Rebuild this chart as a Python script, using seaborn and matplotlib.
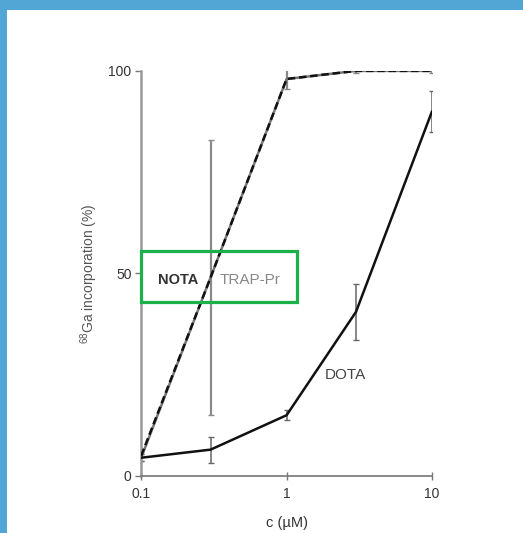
import pandas as pd
import numpy as np
import matplotlib
matplotlib.use("Agg")
import matplotlib.pyplot as plt
import seaborn as sns
from matplotlib.patches import Rectangle

# datos
conc = [0.1, 0.3, 1, 3, 10]
nota = [5, 49, 98, 100, 100]
trap = [4.5, 49, 98, 100, 100]
dota = [4.5, 6.5, 15, 40.5, 90]
trap_err = [0.8, 34, 2.5, 0.5, 0.5]
dota_err = [0.8, 3.2, 1.2, 7, 5]

df = pd.DataFrame({
    "c": conc * 3,
    "inc": trap + nota + dota,
    "quelante": ["TRAP-Pr"] * 5 + ["NOTA"] * 5 + ["DOTA"] * 5,
})

sns.set_style("white")
plt.rcParams["font.family"] = ["Liberation Sans", "DejaVu Sans"]
plt.rcParams["mathtext.fontset"] = "custom"
plt.rcParams["mathtext.rm"] = "Liberation Sans"

fig = plt.figure(figsize=(5.23, 5.33), dpi=100)
ax = fig.add_axes([0.27, 0.107, 0.556, 0.76])

ax.errorbar(conc, trap, yerr=trap_err, fmt="none", ecolor="#8a8a8a",
            elinewidth=1.6, capsize=2.5, zorder=1)
ax.errorbar(conc, dota, yerr=dota_err, fmt="none", ecolor="#666666",
            elinewidth=1.1, capsize=2.5, zorder=1)

sns.lineplot(data=df, x="c", y="inc", hue="quelante", style="quelante",
             palette={"TRAP-Pr": "#777777", "NOTA": "#111111", "DOTA": "#111111"},
             dashes={"TRAP-Pr": "", "NOTA": (3, 1.5), "DOTA": ""},
             linewidth=1.8, legend=False, ax=ax, zorder=3)

ax.set_xscale("log")
ax.set_xlim(0.1, 10)
ax.set_ylim(0, 100)
ax.set_xticks([0.1, 1, 10])
ax.set_xticklabels(["0.1", "1", "10"])
ax.set_yticks([0, 50, 100])
ax.xaxis.set_minor_locator(matplotlib.ticker.NullLocator())

sns.despine(ax=ax)
ax.spines["left"].set_color("#999999")
ax.spines["left"].set_linewidth(1.8)
ax.spines["bottom"].set_color("#777777")
ax.spines["bottom"].set_linewidth(1.2)
ax.tick_params(axis="y", direction="out", length=4, width=1, color="#777777",
               labelsize=10, labelcolor="#333333", pad=3, left=True)
ax.tick_params(axis="x", direction="inout", length=6, width=1, color="#777777",
               labelsize=10, labelcolor="#333333", pad=5, bottom=True)

ax.set_xlabel("c (µM)", fontsize=10.5, color="#333333", labelpad=11)
ax.set_ylabel(r"$\mathregular{^{68}}$Ga incorporation (%)", fontsize=10,
              color="#555555", labelpad=6)

ax.text(0.179, 48.5, "NOTA", fontsize=10.5, color="#333333", fontweight="bold",
        ha="center", va="center")
ax.text(0.565, 48.5, "TRAP-Pr", fontsize=11, color="#888888", ha="center", va="center")
ax.text(2.55, 25, "DOTA", fontsize=11, color="#444444", ha="center", va="center")

# recuadro verde
fig.patches.append(Rectangle((141 / 523, 1 - 302 / 533), 156 / 523, 51 / 533,
                             transform=fig.transFigure, fill=False,
                             edgecolor="#1cb04b", linewidth=2.3, zorder=10))
# borde azul
fig.patches.append(Rectangle((0, 1 - 10 / 533), 1, 10 / 533, transform=fig.transFigure,
                             facecolor="#52a6d6", edgecolor="none", zorder=10))
fig.patches.append(Rectangle((0, 0), 7 / 523, 1, transform=fig.transFigure,
                             facecolor="#52a6d6", edgecolor="none", zorder=10))

plt.savefig("out.png", dpi=100)
